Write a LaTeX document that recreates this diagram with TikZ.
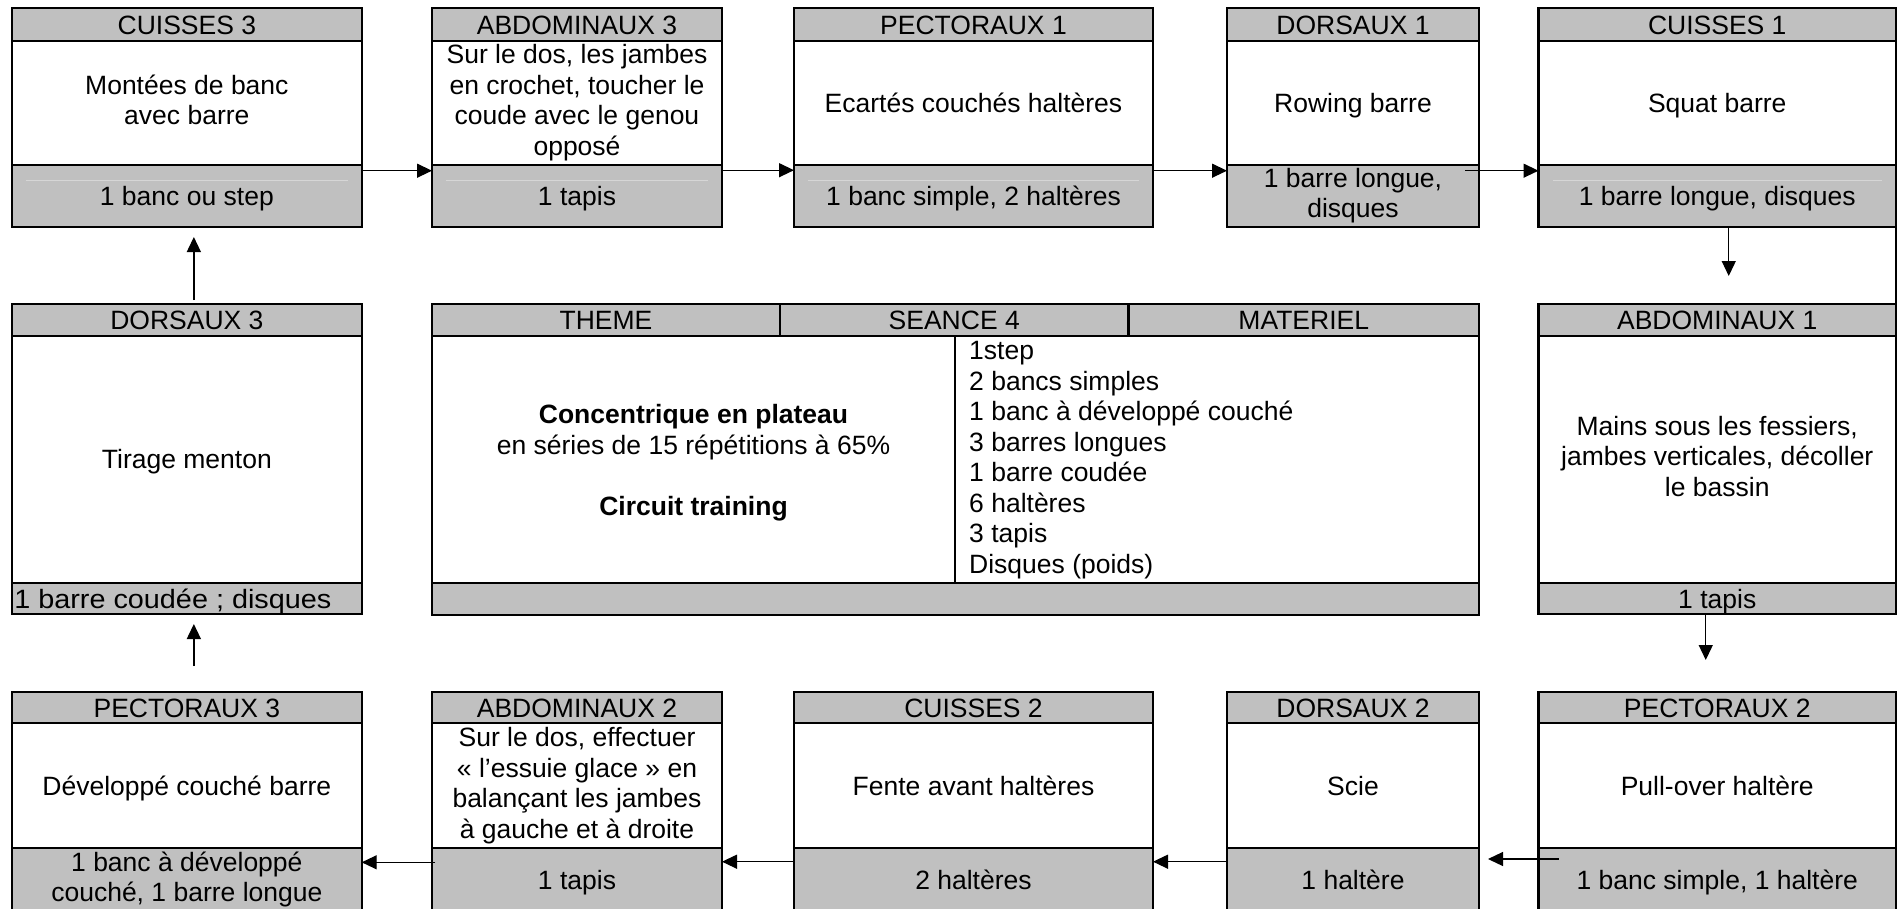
\documentclass[tikz,border=0pt]{standalone}
\usepackage{fontspec}
\usepackage{graphicx}
\setmainfont{Liberation Sans}
\usetikzlibrary{arrows.meta}
\definecolor{boxgrey}{HTML}{C0C0C0}
\definecolor{seam}{HTML}{D6D6D6}

% vertical limits of the three rows: top, header bottom, footer top, bottom
\def\rowtA{8.3}\def\rowhA{40.7}\def\rowfA{164.7}\def\rowbA{227}
\def\rowtB{304}\def\rowhB{335.7}\def\rowfB{582.7}\def\rowbB{614.3}
\def\rowtC{691.7}\def\rowhC{723.3}\def\rowfC{848.3}\def\rowbC{911}

% line strut that keeps capitals centred in their line
\newcommand\cellstrut{\rule[-5.7pt]{0pt}{30.5pt}}

% one exercise card: #1 name, #2 left, #3 right, #4 row, #5 title, #6 exercise, #7 equipment
\newcommand\exo[7]{%
  \pgfmathsetmacro\exX{(#2+#3)/2}%
  \pgfmathsetmacro\exW{#3-#2}%
  \pgfmathsetmacro\exYh{(\csname rowt#4\endcsname+\csname rowh#4\endcsname)/2}%
  \pgfmathsetmacro\exHh{\csname rowh#4\endcsname-\csname rowt#4\endcsname}%
  \pgfmathsetmacro\exYb{(\csname rowh#4\endcsname+\csname rowf#4\endcsname)/2}%
  \pgfmathsetmacro\exHb{\csname rowf#4\endcsname-\csname rowh#4\endcsname}%
  \pgfmathsetmacro\exYf{(\csname rowf#4\endcsname+\csname rowb#4\endcsname)/2}%
  \pgfmathsetmacro\exHf{\csname rowb#4\endcsname-\csname rowf#4\endcsname}%
  \node[plain, minimum width=\exW pt, minimum height=\exHb pt] (#1b) at (\exX,\exYb) {#6};
  \node[grey, minimum width=\exW pt, minimum height=\exHh pt] (#1h) at (\exX,\exYh) {#5};
  \node[grey, minimum width=\exW pt, minimum height=\exHf pt] (#1f) at (\exX,\exYf) {#7};
}
% light rule just inside an equipment band
\newcommand\seamrule[1]{\draw[seamline] ([xshift=14pt,yshift=-16pt]#1.north west) -- ([xshift=-14pt,yshift=-16pt]#1.north east);}

\begin{document}
\begin{tikzpicture}[x=1pt,y=-1pt,
  txt/.style={font=\fontsize{26.5}{30.5}\selectfont},
  cell/.style={txt, draw=black, line width=2.3pt, inner sep=0pt, outer sep=0pt, align=center,
    execute at begin node=\cellstrut, execute at end node=\cellstrut},
  grey/.style={cell, fill=boxgrey},
  plain/.style={cell, fill=white},
  lines/.style={txt, inner sep=0pt, execute at begin node=\cellstrut, execute at end node=\cellstrut},
  seamline/.style={draw=seam, line width=1pt},
  arr/.style={line width=1.3pt, -{Triangle[length=15pt,width=14pt]}},
  border/.style={line width=2.3pt}]
\useasboundingbox (0,0) rectangle (1899,908);
\fill[white] (0,0) rectangle (1899,908);
\clip (0,0) rectangle (1899,908);

% ---- top row
\exo{cuis3}{12}{361.7}{A}{CUISSES 3}{Montées de banc\\avec barre}{1 banc ou step}
\exo{abdo3}{432}{722}{A}{ABDOMINAUX 3}{Sur le dos, les jambes\\en crochet, toucher le\\coude avec le genou\\opposé}{1 tapis}
\exo{pect1}{794}{1153}{A}{PECTORAUX 1}{Ecartés couchés haltères}{1 banc simple, 2 haltères}
\exo{dors1}{1227}{1479}{A}{DORSAUX 1}{Rowing barre}{1 barre longue,\\disques}
\exo{cuis1}{1538.5}{1896}{A}{CUISSES 1}{Squat barre}{1 barre longue, disques}
\seamrule{cuis3f}\seamrule{abdo3f}\seamrule{pect1f}\seamrule{cuis1f}

% ---- middle row
\exo{dors3}{12}{361.7}{B}{DORSAUX 3}{Tirage menton}{\hspace*{-28pt}\scalebox{1.087}[1]{1 barre coudée ; disques}}
\exo{abdo1}{1538.5}{1896}{B}{ABDOMINAUX 1}{Mains sous les fessiers,\\jambes verticales, décoller\\le bassin}{1 tapis}

% session table
\node[plain, minimum width=523pt, minimum height=247pt] (theme) at (693.5,459.2) {};
\node[plain, minimum width=524pt, minimum height=247pt] (matcell) at (1217,459.2) {};
\node[grey, minimum width=348pt, minimum height=31.7pt] (hthm) at (606,319.85) {THEME};
\node[grey, minimum width=348.5pt, minimum height=31.7pt] (hsea) at (954.25,319.85) {SEANCE 4};
\node[grey, minimum width=350.5pt, minimum height=31.7pt] (hmat) at (1303.75,319.85) {MATERIEL};
\node[grey, minimum width=1047pt, minimum height=32.3pt] (tfoot) at (955.5,598.85) {};
\node[lines, align=center] (themetxt) at (693.5,462.5)
  {\textbf{Concentrique en plateau}\\en séries de 15 répétitions à 65\%\\ \\\textbf{Circuit training}};
\node[lines, align=left, anchor=north west] (matlist) at (969,341.5)
  {1step\\2 bancs simples\\1 banc à développé couché\\3 barres longues\\1 barre coudée\\6 haltères\\3 tapis\\Disques (poids)};

% ---- bottom row
\exo{pect3}{12}{361.7}{C}{PECTORAUX 3}{Développé couché barre}{1 banc à développé\\couché, 1 barre longue}
\exo{abdo2}{432}{722}{C}{ABDOMINAUX 2}{Sur le dos, effectuer\\« l’essuie glace » en\\balançant les jambes\\à gauche et à droite}{1 tapis}
\exo{cuis2}{794}{1153}{C}{CUISSES 2}{Fente avant haltères}{2 haltères}
\exo{dors2}{1227}{1479}{C}{DORSAUX 2}{Scie}{1 haltère}
\exo{pect2}{1538.5}{1896}{C}{PECTORAUX 2}{Pull-over haltère}{1 banc simple, 1 haltère}

% ---- circuit order
\draw[arr] ([yshift=-6pt]cuis3f.north east) -- ([yshift=-6pt]abdo3f.north west);
\draw[arr] ([yshift=-5.5pt]abdo3f.north east) -- ([yshift=-5.5pt]pect1f.north west);
\draw[arr] ([yshift=-6pt]pect1f.north east) -- ([yshift=-6pt]dors1f.north west);
\draw[arr] ([xshift=-14pt,yshift=-6pt]dors1f.north east) -- ([yshift=-6pt]cuis1f.north west);
\draw[border] (cuis1f.south east) -- (abdo1h.north east);
\draw[arr] ([xshift=11.5pt]cuis1f.south) -- ([xshift=11.5pt,yshift=28pt]abdo1h.north);
\draw[arr] ([xshift=-11.5pt]abdo1f.south) -- ([xshift=-11.5pt,yshift=31.7pt]pect2h.north);
\draw[arr] ([xshift=20pt,yshift=-10.7pt]pect2f.north west) -- ([xshift=9pt,yshift=-10.7pt]dors2f.north east);
\draw[arr] ([yshift=-13.4pt]dors2f.north west) -- ([yshift=-13.4pt]cuis2f.north east);
\draw[arr] ([yshift=-13.4pt]cuis2f.north west) -- ([yshift=-13.4pt]abdo2f.north east);
\draw[arr] ([xshift=3pt,yshift=-14pt]abdo2f.north west) -- ([yshift=-14pt]pect3f.north east);
\draw[arr] ([xshift=7pt,yshift=25.7pt]pect3h.north) -- ([xshift=7pt,yshift=-9.7pt]dors3f.south);
\draw[arr] ([xshift=7pt,yshift=4pt]dors3h.north) -- ([xshift=7pt,yshift=-10pt]cuis3f.south);
\end{tikzpicture}
\end{document}
